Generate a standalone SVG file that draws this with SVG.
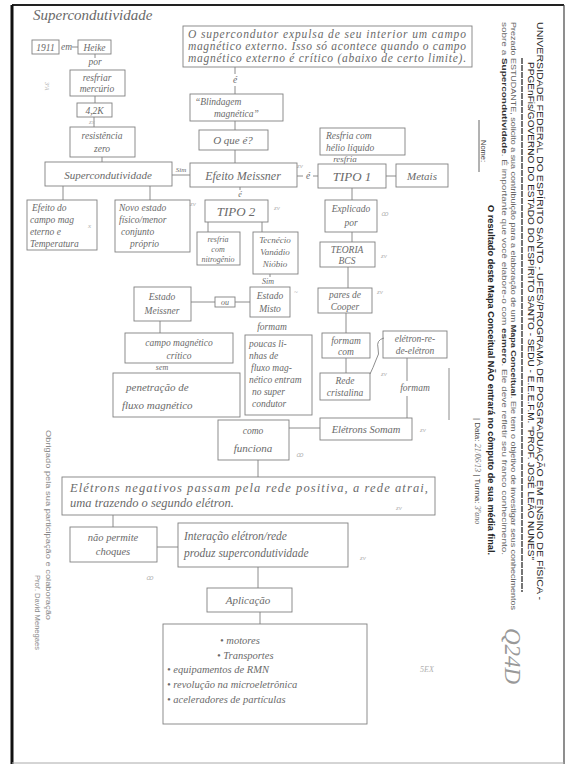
<svg xmlns="http://www.w3.org/2000/svg" width="568" height="769" viewBox="0 0 568 769">
<style>
.bx{fill:none;stroke:#808080;stroke-width:0.9}
.ln{fill:none;stroke:#808080;stroke-width:0.9}
.h{font-family:"Liberation Serif",serif;font-style:italic;fill:#6a6a6a;font-size:9.5px}
.hc{font-family:"Liberation Serif",serif;font-style:italic;fill:#6a6a6a;font-size:9.5px;text-anchor:middle}
.mk{font-family:"Liberation Serif",serif;font-style:italic;fill:#b0b0b0;font-size:7px}
.p{font-family:"Liberation Sans",Arial,sans-serif;fill:#444;font-size:8.5px}
.pb{font-family:"Liberation Sans",Arial,sans-serif;fill:#222;font-size:8.5px;font-weight:bold}
</style>
<rect width="568" height="769" fill="#fff"/>
<g id="page">
<line x1="12" y1="5" x2="564" y2="5" stroke="#222" stroke-width="2"/>
<line x1="12" y1="5" x2="12" y2="764" stroke="#111" stroke-width="3"/>
<line x1="564" y1="5" x2="564" y2="764" stroke="#444" stroke-width="1.2"/>
<line x1="12" y1="763" x2="564" y2="763" stroke="#aaa" stroke-width="1"/>
</g>
<g id="header">
<text class="p" transform="translate(537,22) rotate(90)" textLength="578" lengthAdjust="spacingAndGlyphs" style="fill:#222">UNIVERSIDADE FEDERAL DO ESPÍRITO SANTO - UFES/PROGRAMA DE POSGRADUAÇÃO EM ENSINO DE FÍSICA -</text>
<text class="p" transform="translate(528,62) rotate(90)" textLength="498" lengthAdjust="spacingAndGlyphs" style="fill:#222">PPGEnFis/GOVERNO DO ESTADO DO ESPÍRITO SANTO - SEDU - E.E.E.F.M. "PROF. JOSÉ LEÃO NUNES"</text>
<line x1="522" y1="58" x2="522" y2="592" stroke="#666" stroke-width="1.8" stroke-dasharray="6 1"/>
<text class="p" transform="translate(511,22) rotate(90)" textLength="588" lengthAdjust="spacingAndGlyphs" style="font-size:7.5px;fill:#666">Prezado ESTUDANTE, solicito a sua contribuição para a elaboração de um <tspan font-weight="bold" fill="#333">Mapa Conceitual</tspan>. Ele tem o objetivo de investigar seus conhecimentos</text>
<text class="p" transform="translate(502,22) rotate(90)" textLength="533" lengthAdjust="spacingAndGlyphs" style="font-size:7.5px;fill:#666">sobre a <tspan font-weight="bold" fill="#333">Supercondutividade</tspan>. É importante que você elabore-o com <tspan font-weight="bold" fill="#333">esmero</tspan>. Ele deve refletir seu franco conhecimento.</text>
<text class="pb" transform="translate(488,205) rotate(90)" textLength="350" lengthAdjust="spacingAndGlyphs">O resultado deste Mapa Conceitual NÃO entrará no cômputo de sua média final.</text>
<text class="p" transform="translate(481,140) rotate(90)" style="font-size:7.5px">Nome:</text>
<line x1="479" y1="120" x2="479" y2="172" stroke="#666" stroke-width="1"/>
<text class="p" transform="translate(475,418) rotate(90)" style="font-size:8px">| Data: <tspan font-family="Liberation Serif,serif" font-style="italic" fill="#6a6a6a">21/06/13</tspan> | Turma: <tspan font-family="Liberation Serif,serif" font-style="italic" fill="#6a6a6a">3ºano</tspan></text>
<text class="p" transform="translate(46,430) rotate(90)" textLength="190" lengthAdjust="spacingAndGlyphs" style="font-size:7px;fill:#888">Obrigado pela sua participação e colaboração</text>
<text class="p" transform="translate(35,575) rotate(90)" textLength="75" lengthAdjust="spacingAndGlyphs" style="font-size:7px;fill:#888">Prof. David Menegaes</text>
<text class="h" transform="translate(505,628) rotate(90)" style="font-size:23px;fill:#999">Q24D</text>
</g>
<text class="h" x="33" y="20" style="font-size:15px">Supercondutividade</text>
<g id="connectors">
<line class="ln" x1="72" y1="47" x2="78" y2="47"/>
<line class="ln" x1="95" y1="54" x2="95" y2="58"/>
<line class="ln" x1="95" y1="96" x2="95" y2="103"/>
<line class="ln" x1="94" y1="117" x2="94" y2="127"/>
<line class="ln" x1="102" y1="157" x2="102" y2="162"/>
<line class="ln" x1="172" y1="175" x2="190" y2="175"/>
<line class="ln" x1="63" y1="186" x2="63" y2="200"/>
<line class="ln" x1="150" y1="186" x2="150" y2="200"/>
<line class="ln" x1="235" y1="67" x2="235" y2="74"/>
<line class="ln" x1="235" y1="86" x2="235" y2="94"/>
<line class="ln" x1="235" y1="121" x2="235" y2="130"/>
<line class="ln" x1="235" y1="150" x2="235" y2="163"/>
<line class="ln" x1="297" y1="176" x2="303" y2="176"/>
<line class="ln" x1="313" y1="176" x2="318" y2="176"/>
<line class="ln" x1="386" y1="176" x2="396" y2="176"/>
<line class="ln" x1="240" y1="187" x2="240" y2="190"/>
<line class="ln" x1="208" y1="222" x2="208" y2="232"/>
<line class="ln" x1="262" y1="222" x2="262" y2="232"/>
<line class="ln" x1="352" y1="188" x2="352" y2="200"/>
<line class="ln" x1="352" y1="232" x2="352" y2="242"/>
<line class="ln" x1="348" y1="267" x2="348" y2="288"/>
<line class="ln" x1="270" y1="274" x2="270" y2="277"/>
<line class="ln" x1="191" y1="302" x2="215" y2="302"/>
<line class="ln" x1="235" y1="302" x2="250" y2="302"/>
<line class="ln" x1="160" y1="321" x2="160" y2="333"/>
<line class="ln" x1="346" y1="313" x2="346" y2="333"/>
<line class="ln" x1="346" y1="358" x2="346" y2="373"/>
<path class="ln" d="M384,338 q-8,2 -6,10 q2,6 -2,12 q-3,8 -6,14"/>
<line class="ln" x1="407" y1="358" x2="407" y2="381"/>
<line class="ln" x1="407" y1="396" x2="407" y2="418"/>
<line class="ln" x1="449" y1="368" x2="449" y2="420"/>
<line class="ln" x1="289" y1="428" x2="320" y2="428"/>
<line class="ln" x1="258" y1="460" x2="258" y2="477"/>
<line class="ln" x1="113" y1="515" x2="113" y2="527"/>
<line class="ln" x1="157" y1="547" x2="178" y2="547"/>
<line class="ln" x1="258" y1="567" x2="258" y2="588"/>
<line class="ln" x1="260" y1="612" x2="260" y2="624"/>
</g>
<g id="labels">
<text class="h" x="61" y="50">em</text>
<text class="hc" x="95" y="65">por</text>
<text class="mk" x="89" y="124">zx</text>
<text class="hc" x="181" y="172" style="font-size:7px">Sim</text>
<text class="hc" x="235" y="83">é</text>
<text class="hc" x="308" y="179">é</text>
<text class="hc" x="240" y="197" style="font-size:8px">é</text>
<text class="hc" x="345" y="162" style="font-size:9px">resfria</text>
<text class="hc" x="268" y="284" style="font-size:8px">Sim</text>
<text class="hc" x="272" y="330">formam</text>
<text class="hc" x="162" y="370" style="font-size:8px">sem</text>
<text class="hc" x="415" y="391">formam</text>
<text class="mk" x="88" y="228">x</text>
<text class="mk" x="190" y="206">zv</text>
<text class="mk" x="274" y="210">zv</text>
<text class="mk" x="297" y="168">zv</text>
<text class="mk" x="381" y="216">ꝏ</text>
<text class="mk" x="381" y="258">zv</text>
<text class="mk" x="294" y="294">~</text>
<text class="mk" x="377" y="294">zv</text>
<text class="mk" x="381" y="376">zv</text>
<text class="mk" x="420" y="432">zv</text>
<text class="mk" x="296" y="457">ꝏ</text>
<text class="mk" x="396" y="510">zv</text>
<text class="mk" x="360" y="560">zv</text>
<text class="mk" x="146" y="580">ꝏ</text>
<text class="mk" x="420" y="672" style="font-size:8px">5EX</text>
<text class="mk" transform="translate(45,82) rotate(90)" style="font-size:6px">3ªA</text>
</g>
<g id="n-1911"><rect class="bx" x="32" y="40" width="27" height="14"/><text class="hc" x="45.5" y="51">1911</text></g>
<g id="n-heike"><rect class="bx" x="78" y="40" width="33" height="14"/><text class="hc" x="94.5" y="51">Heike</text></g>
<g id="n-resfriar"><rect class="bx" x="70" y="70" width="55" height="26"/><text class="hc" x="97" y="81">resfriar</text><text class="hc" x="97" y="92">mercúrio</text></g>
<g id="n-42k"><rect class="bx" x="77" y="103" width="35" height="14"/><text class="hc" x="94.5" y="114">4,2K</text></g>
<g id="n-resist"><rect class="bx" x="70" y="127" width="65" height="30"/><text class="hc" x="102" y="139">resistência</text><text class="hc" x="102" y="152">zero</text></g>
<g id="n-super"><rect class="bx" x="45" y="162" width="127" height="24"/><text class="hc" x="108" y="179" style="font-size:11px">Supercondutividade</text></g>
<g id="n-top"><rect class="bx" x="183" y="26" width="289" height="41"/>
<text class="h" x="188" y="38" textLength="278" lengthAdjust="spacing" style="font-size:11.5px">O supercondutor expulsa de seu interior um campo</text>
<text class="h" x="188" y="50" textLength="278" lengthAdjust="spacing" style="font-size:11.5px">magnético externo. Isso só acontece quando o campo</text>
<text class="h" x="188" y="62" textLength="278" lengthAdjust="spacing" style="font-size:11.5px">magnético externo é crítico (abaixo de certo limite).</text></g>
<g id="n-blind"><rect class="bx" x="190" y="94" width="93" height="27"/><text class="h" x="195" y="105">“Blindagem</text><text class="h" x="214" y="117">magnética”</text></g>
<g id="n-oque"><rect class="bx" x="199" y="130" width="69" height="20"/><text class="hc" x="233" y="144" style="font-size:11px">O que é?</text></g>
<g id="n-meissner"><rect class="bx" x="190" y="163" width="107" height="24"/><text class="hc" x="243" y="180" style="font-size:12px">Efeito Meissner</text></g>
<g id="n-efcampo"><rect class="bx" x="27" y="200" width="70" height="50"/><text class="h" x="32" y="211">Efeito do</text><text class="h" x="30" y="223">campo mag</text><text class="h" x="30" y="235">eterno e</text><text class="h" x="30" y="247">Temperatura</text></g>
<g id="n-novo"><rect class="bx" x="115" y="200" width="75" height="52"/><text class="h" x="119" y="211">Novo estado</text><text class="h" x="119" y="223">físico/menor</text><text class="h" x="121" y="235">conjunto</text><text class="h" x="130" y="247">próprio</text></g>
<g id="n-tipo2"><rect class="bx" x="205" y="200" width="63" height="22"/><text class="hc" x="236" y="216" style="font-size:13px">TIPO 2</text></g>
<g id="n-nitro"><rect class="bx" x="197" y="232" width="43" height="33"/><text class="hc" x="218" y="242" style="font-size:8px">resfria</text><text class="hc" x="218" y="252" style="font-size:8px">com</text><text class="hc" x="218" y="262" style="font-size:8px">nitrogênio</text></g>
<g id="n-tecn"><rect class="bx" x="253" y="232" width="45" height="42"/><text class="hc" x="275" y="243" style="font-size:9px">Tecnécio</text><text class="hc" x="275" y="255" style="font-size:9px">Vanádio</text><text class="hc" x="275" y="267" style="font-size:9px">Nióbio</text></g>
<g id="n-helio"><rect class="bx" x="320" y="128" width="85" height="27"/><text class="h" x="326" y="139">Resfria com</text><text class="h" x="326" y="151">hélio líquido</text></g>
<g id="n-tipo1"><rect class="bx" x="318" y="164" width="68" height="24"/><text class="hc" x="352" y="181" style="font-size:13px">TIPO 1</text></g>
<g id="n-metais"><rect class="bx" x="396" y="164" width="52" height="23"/><text class="hc" x="422" y="180" style="font-size:11px">Metais</text></g>
<g id="n-explic"><rect class="bx" x="325" y="200" width="52" height="32"/><text class="hc" x="351" y="212">Explicado</text><text class="hc" x="351" y="226">por</text></g>
<g id="n-bcs"><rect class="bx" x="320" y="242" width="55" height="25"/><text class="hc" x="347" y="253">TEORIA</text><text class="hc" x="347" y="264">BCS</text></g>
<g id="n-estmeis"><rect class="bx" x="134" y="287" width="57" height="34"/><text class="hc" x="162" y="300">Estado</text><text class="hc" x="162" y="314">Meissner</text></g>
<g id="n-ou"><rect class="bx" x="215" y="297" width="20" height="10"/><text class="hc" x="225" y="305" style="font-size:8px">ou</text></g>
<g id="n-misto"><rect class="bx" x="250" y="287" width="40" height="30"/><text class="hc" x="270" y="299">Estado</text><text class="hc" x="270" y="312">Misto</text></g>
<g id="n-cooper"><rect class="bx" x="318" y="288" width="54" height="25"/><text class="hc" x="345" y="298">pares de</text><text class="hc" x="345" y="310">Cooper</text></g>
<g id="n-critico"><rect class="bx" x="125" y="333" width="108" height="30"/><text class="hc" x="179" y="346">campo magnético</text><text class="hc" x="179" y="359">crítico</text></g>
<g id="n-penetr"><rect class="bx" x="113" y="373" width="127" height="44"/><text class="h" x="126" y="391" style="font-size:11px">penetração de</text><text class="h" x="122" y="409" style="font-size:11px">fluxo magnético</text></g>
<g id="n-poucas"><rect class="bx" x="245" y="335" width="67" height="80"/><text class="h" x="249" y="347">poucas li-</text><text class="h" x="249" y="359">nhas de</text><text class="h" x="251" y="371">fluxo mag-</text><text class="h" x="249" y="383">nético entram</text><text class="h" x="252" y="395">no super</text><text class="h" x="252" y="407">condutor</text></g>
<g id="n-formamcom"><rect class="bx" x="322" y="333" width="48" height="25"/><text class="hc" x="346" y="344">formam</text><text class="hc" x="346" y="355">com</text></g>
<g id="n-eletron"><rect class="bx" x="383" y="331" width="64" height="27"/><text class="hc" x="415" y="342">elétron-re-</text><text class="hc" x="415" y="354">de-elétron</text></g>
<g id="n-rede"><rect class="bx" x="320" y="373" width="50" height="27"/><text class="hc" x="345" y="384">Rede</text><text class="hc" x="345" y="396">cristalina</text></g>
<g id="n-somam"><rect class="bx" x="320" y="418" width="92" height="22"/><text class="hc" x="366" y="433" style="font-size:10.5px">Elétrons Somam</text></g>
<g id="n-funciona"><rect class="bx" x="218" y="420" width="71" height="40"/><text class="hc" x="253" y="434">como</text><text class="hc" x="253" y="452" style="font-size:11px">funciona</text></g>
<g id="n-big"><rect class="bx" x="62" y="477" width="373" height="38"/><text class="h" x="70" y="492" textLength="358" lengthAdjust="spacing" style="font-size:12.5px">Elétrons negativos passam pela rede positiva, a rede atrai,</text><text class="h" x="70" y="507" style="font-size:12.5px">uma trazendo o segundo elétron.</text></g>
<g id="n-choques"><rect class="bx" x="70" y="527" width="87" height="35"/><text class="hc" x="113" y="541" style="font-size:10.5px">não permite</text><text class="hc" x="113" y="555" style="font-size:10.5px">choques</text></g>
<g id="n-interacao"><rect class="bx" x="178" y="523" width="170" height="44"/><text class="h" x="184" y="540" style="font-size:11.5px">Interação elétron/rede</text><text class="h" x="184" y="557" style="font-size:11.5px">produz supercondutividade</text></g>
<g id="n-aplic"><rect class="bx" x="207" y="588" width="85" height="24"/><text class="hc" x="248" y="604" style="font-size:11px">Aplicação</text></g>
<g id="n-apps"><rect class="bx" x="163" y="624" width="204" height="100"/>
<text class="h" x="220" y="644" style="font-size:10.5px">• motores</text>
<text class="h" x="217" y="659" style="font-size:10.5px">• Transportes</text>
<text class="h" x="167" y="673" style="font-size:10.5px">• equipamentos de RMN</text>
<text class="h" x="167" y="688" style="font-size:10.5px">• revolução na microeletrônica</text>
<text class="h" x="167" y="703" style="font-size:10.5px">• aceleradores de partículas</text></g>
</svg>
